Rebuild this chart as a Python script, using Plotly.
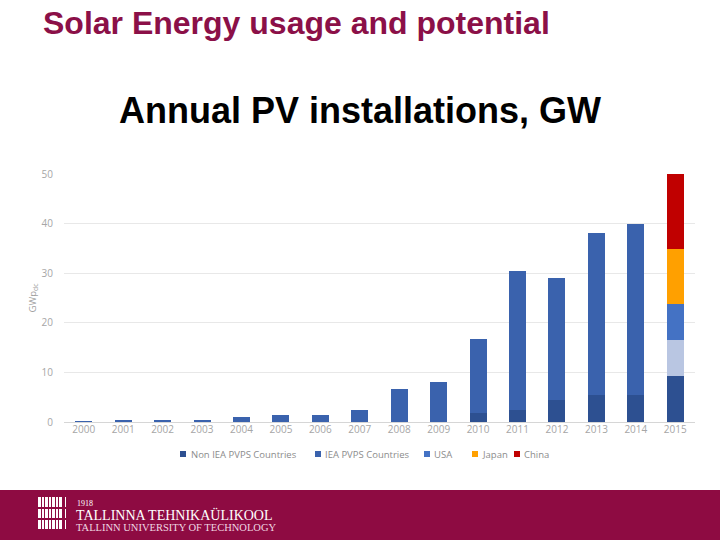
import plotly.graph_objects as go

years = ["2000", "2001", "2002", "2003", "2004", "2005", "2006", "2007",
         "2008", "2009", "2010", "2011", "2012", "2013", "2014", "2015"]
non_iea = [0, 0, 0, 0, 0, 0, 0, 0, 0, 0, 1.9, 2.5, 4.4, 5.4, 5.4, 9.3]
iea = [0.2, 0.25, 0.3, 0.4, 1.0, 1.4, 1.4, 2.4, 6.6, 8.05, 14.9, 27.9, 24.7, 32.7, 34.5, 7.3]
usa = [0] * 15 + [7.1]
japan = [0] * 15 + [11.1]
china = [0] * 15 + [15.3]
y_ticks = [0, 10, 20, 30, 40, 50]
series_names = ["Non IEA PVPS Countries", "IEA PVPS Countries", "USA", "Japan", "China"]

W, H = 720, 540
def fx(p):
    return p / W
def fy(p):
    return 1 - p / H

c_non = "#2d5091"
c_iea = "#3a62ad"
c_iea_2015 = "#b9c6e2"
c_usa = "#4472c4"
c_japan = "#ffa000"
c_china = "#c00000"
colors = [c_non, c_iea, c_usa, c_japan, c_china]
iea_colors = [c_iea] * 15 + [c_iea_2015]

fig = go.Figure()
series = [non_iea, iea, usa, japan, china]
for i, (nm, vals) in enumerate(zip(series_names, series)):
    col = iea_colors if i == 1 else colors[i]
    fig.add_trace(go.Bar(x=years, y=vals, name=nm, showlegend=False,
                         marker=dict(color=col, line=dict(width=0))))

gray_font = "Open Sans, Liberation Sans, Arial"
tick_font = dict(family=gray_font, size=10, color="#a6a6a6")

fig.update_layout(
    width=W, height=H,
    margin=dict(l=0, r=0, t=0, b=0),
    paper_bgcolor="white",
    plot_bgcolor="white",
    barmode="stack",
    bargap=0.57,
    showlegend=False,
    xaxis=dict(domain=[fx(64), fx(695)], type="category",
               tickfont=tick_font, showgrid=False, showline=False, ticks="",
               anchor="y", automargin=False),
    yaxis=dict(domain=[fy(422), fy(174)], range=[0, 50], tickvals=y_ticks,
               tickfont=tick_font, showgrid=True, gridcolor="#e8e8e8", gridwidth=1,
               zeroline=True, zerolinecolor="#d6d6d6", zerolinewidth=1,
               ticks="", ticklabelstandoff=10, automargin=False,
               title=dict(text="GWp<sub>dc</sub>", standoff=3,
                          font=dict(family=gray_font, size=9.5, color="#a0a0a0"))),
    font=dict(family="Liberation Sans, Arial"),
)

# Manual legend (small squares + labels) matching the reference's tight spacing
legend_sq_x = [180, 315, 424, 472, 514]
legend_tx_x = [189, 323, 432, 480, 522]
for nm, col, sx, tx in zip(series_names, colors, legend_sq_x, legend_tx_x):
    fig.add_shape(type="rect", xref="paper", yref="paper",
                  x0=fx(sx), x1=fx(sx + 6), y0=fy(457), y1=fy(451),
                  fillcolor=col, line=dict(width=0))
    fig.add_annotation(text=nm, xref="paper", yref="paper", x=fx(tx), y=fy(454),
                       xanchor="left", yanchor="middle", showarrow=False,
                       font=dict(family=gray_font, size=9.5, color="#8c8c8c"))

# Slide titles
fig.add_annotation(text="<b>Solar Energy usage and potential</b>", xref="paper", yref="paper",
                   x=fx(41), y=fy(23), xanchor="left", yanchor="middle", showarrow=False,
                   font=dict(family="Liberation Sans, Arial", size=32, color="#8b1048"))
fig.add_annotation(text="<b>Annual PV installations, GW</b>", xref="paper", yref="paper",
                   x=fx(360), y=fy(110), xanchor="center", yanchor="middle", showarrow=False,
                   font=dict(family="Liberation Sans, Arial", size=36, color="#000000"))

# Footer band
fig.add_shape(type="rect", xref="paper", yref="paper", x0=0, x1=1, y0=0, y1=fy(490),
              fillcolor="#8e0b42", line=dict(width=0), layer="above")

# Logo icon (vertical bars)
rows = [(497, 507), (509, 518), (520, 529)]
cols = [(38, 41), (42, 44), (45, 48), (49, 51), (52, 55), (56, 58), (59, 62), (65, 66)]
for (ya, yb) in rows:
    for (xa, xb) in cols:
        fig.add_shape(type="rect", xref="paper", yref="paper",
                      x0=fx(xa), x1=fx(xb), y0=fy(yb), y1=fy(ya),
                      fillcolor="white", line=dict(width=0), layer="above")

fig.add_annotation(text="1918", xref="paper", yref="paper", x=fx(75), y=fy(503),
                   xanchor="left", yanchor="middle", showarrow=False,
                   font=dict(family="Liberation Serif, DejaVu Serif", size=8, color="white"))
fig.add_annotation(text="TALLINNA TEHNIKAÜLIKOOL", xref="paper", yref="paper", x=fx(74), y=fy(515),
                   xanchor="left", yanchor="middle", showarrow=False,
                   font=dict(family="Liberation Serif, DejaVu Serif", size=14, color="white"))
fig.add_annotation(text="TALLINN UNIVERSITY OF TECHNOLOGY", xref="paper", yref="paper", x=fx(74), y=fy(527),
                   xanchor="left", yanchor="middle", showarrow=False,
                   font=dict(family="Liberation Serif, DejaVu Serif", size=10.5, color="#f0d8e2"))

fig.write_html("out.html", config={"displayModeBar": False},
               post_script="document.body.style.margin='0';document.body.style.overflow='hidden';")
